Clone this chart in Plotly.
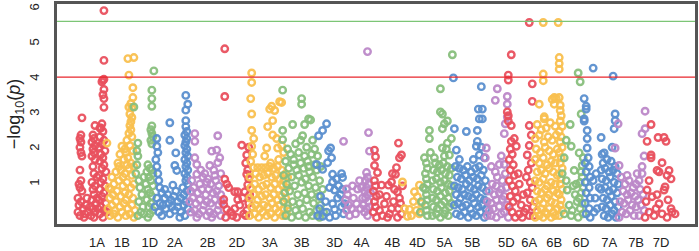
import plotly.graph_objects as go

# Chromosome names and label positions (genomic position in plot units)
CHROMS = ["1A", "1B", "1D", "2A", "2B", "2D", "3A", "3B", "3D", "4A", "4B",
          "4D", "5A", "5B", "5D", "6A", "6B", "6D", "7A", "7B", "7D"]
LABEL_POS = [97, 122, 150, 175, 208, 237, 270, 302, 335, 362, 393,
             418, 445, 473, 507, 530, 555, 582, 610, 637, 662]
PALETTE = ["#E9505E", "#F9C04F", "#88BF7C", "#5B8FCF", "#BC88C8"]
Y_TICKS = [1, 2, 3, 4, 5, 6]
SUGGESTIVE = 4.05
GENOMEWIDE = 5.64

# (position, -log10 p) per chromosome
c1A = [(104,5.95),(104,4.53),(103,3.97),(104,3.99),(102,3.92),(104,3.7),(103,3.55),(104,3.44),(104,3.19),(82,2.89),(95,2.67),(102,2.72),(100,2.6),
       (81,2.4),(80,2.3),(81,2.2),(80,2.05),(81,1.9),(82,1.8),(80,1.4),(81,1.1),(79,1.0),(80,0.9),(82,0.8),(78,0.6),(81,0.5),(79,0.4),(83,0.3),(78,0.2),(80,0.1),(84,0.05),(86,0.4),(88,0.2),(85,0.15),(87,0.6),
       (93,2.4),(94,2.3),(92,2.2),(95,2.1),(93,2.0),(94,1.9),(92,1.8),(95,1.7),(93,1.5),(94,1.3),(92,1.05),(95,0.95),(93,0.85),(94,0.7),(92,0.55),(96,0.45),(93,0.3),(95,0.2),(91,0.1),(94,0.05),(90,0.35),
       (101,2.6),(103,2.5),(100,2.35),(104,2.25),(102,2.15),(99,2.05),(105,1.95),(101,1.85),(103,1.75),(100,1.65),(104,1.55),(102,1.45),(106,1.35),(99,1.25),(103,1.15),(101,1.05),(105,0.95),(100,0.85),(104,0.75),(102,0.65),(99,0.55),(106,0.45),(101,0.35),(104,0.25),(100,0.15),(103,0.05),(97,0.6),(98,0.3),(97,1.2),(107,0.2)]
c1B = [(128,4.58),(134,4.61),(129,4.11),(133,3.75),(133,3.47),(131,3.3),(132,3.19),(129,3.2),(130,3.0),(132,2.9),(131,2.78),(130,2.67),(131,2.55),(129,2.45),(132,2.35),(122,2.08),(107,2.17),(125,2.0),(127,2.25),(120,1.85),(126,1.9),(130,2.1),(133,1.95),(118,1.6),(124,1.7),(128,1.75),(131,1.6),(134,1.5),(112,1.2),(116,1.35),(121,1.4),(125,1.3),(129,1.45),(132,1.25),(109,0.9),(114,1.0),(119,1.1),(123,0.95),(127,1.05),(131,0.9),(134,1.0),(110,0.6),(113,0.7),(117,0.8),(121,0.65),(125,0.75),(129,0.7),(133,0.6),(108,0.3),(112,0.4),(116,0.5),(120,0.35),(124,0.45),(128,0.3),(132,0.4),(135,0.25),(110,0.1),(114,0.15),(118,0.05),(122,0.2),(126,0.1),(130,0.15),(134,0.05),(119,1.5),(127,1.55),(123,1.2),(115,0.25),(126,0.55),(111,0.85)]
c1D = [(154,4.23),(152,3.68),(152,3.44),(152,3.22),(134,3.2),(152,2.66),(151,2.55),(152,2.45),(153,2.35),(151,2.25),(152,2.15),(138,2.17),(137,1.95),(138,1.8),(137,1.55),(148,1.55),(150,1.45),(147,1.35),(152,1.4),(153,1.3),(149,1.2),(151,1.1),(146,1.0),(153,0.95),(148,0.85),(150,0.75),(152,0.65),(147,0.55),(151,0.45),(149,0.35),(153,0.25),(150,0.15),(148,0.05),(140,0.9),(142,0.7),(139,0.5),(143,0.35),(141,0.2),(138,0.1),(144,1.2),(136,1.3),(139,1.1),(144,0.15)]
c2A = [(186,3.53),(188,3.28),(186,3.11),(186,2.81),(186,2.64),(170,2.75),(170,2.25),(157,2.3),(157,2.08),(158,1.9),(176,1.89),(175,1.53),(177,1.39),(173,0.97),(187,2.5),(185,2.4),(187,2.3),(186,2.2),(185,2.1),(187,2.0),(186,1.9),(188,1.8),(185,1.7),(187,1.6),(186,1.5),(188,1.4),(185,1.3),(187,1.2),(186,1.1),(188,1.0),(156,1.7),(157,1.5),(158,1.3),(159,1.1),(160,0.9),(162,0.75),(165,0.6),(168,0.7),(171,0.55),(174,0.65),(178,0.5),(181,0.6),(184,0.7),(157,0.6),(160,0.45),(163,0.4),(166,0.3),(169,0.45),(172,0.35),(175,0.25),(178,0.35),(181,0.2),(184,0.4),(187,0.8),(186,0.5),(188,0.3),(185,0.1),(159,0.2),(162,0.1),(165,0.85),(176,0.8),(180,0.05),(170,0.15),(155,0.35),(183,0.9)]
c2B = [(195,2.44),(195,2.22),(218,2.38),(212,1.94),(217,1.97),(220,1.75),(210,1.53),(218,1.61),(195,1.75),(197,1.56),(197,1.28),(205,1.3),(214,1.4),(208,1.15),(221,1.3),(192,1.1),(200,1.0),(203,1.2),(211,1.0),(216,1.1),(219,0.95),(191,0.8),(194,0.9),(198,0.75),(202,0.85),(206,0.7),(209,0.85),(213,0.75),(217,0.8),(221,0.7),(190,0.5),(193,0.6),(196,0.45),(200,0.55),(204,0.4),(207,0.5),(211,0.45),(215,0.55),(219,0.4),(222,0.5),(191,0.2),(195,0.25),(199,0.15),(203,0.25),(207,0.1),(210,0.2),(214,0.15),(218,0.25),(221,0.1),(197,0.05),(212,0.05),(201,1.4),(207,1.05),(215,1.25)]
c2D = [(225,4.86),(225,3.5),(242,2.11),(249,2.05),(247,1.83),(246,1.6),(248,1.4),(247,1.28),(249,1.15),(225,1.14),(227,1.0),(229,0.9),(248,0.98),(238,0.78),(235,0.78),(245,0.78),(224,0.56),(238,0.56),(243,0.6),(224,0.42),(227,0.28),(235,0.3),(240,0.4),(231,0.2),(247,0.25),(246,0.1),(233,0.1),(249,0.45),(244,0.15),(226,0.05),(250,0.7),(237,0.05)]
c3A = [(252,4.17),(252,3.9),(251,3.44),(252,3.0),(252,2.53),(254,2.3),(252,2.08),(253,1.85),(251,1.65),(272,3.22),(275,3.1),(280,3.35),(282,3.33),(270,3.14),(273,2.81),(268,2.64),(273,2.4),(277,2.3),(267,2.03),(265,1.8),(278,2.03),(282,2.1),(284,1.9),(279,1.7),(271,1.6),(254,1.47),(258,1.47),(262,1.47),(266,1.47),(270,1.5),(274,1.45),(278,1.5),(282,1.4),(286,1.3),(250,1.2),(256,1.3),(260,1.2),(264,1.25),(268,1.3),(272,1.2),(276,1.25),(280,1.15),(284,1.1),(288,1.2),(251,0.9),(255,1.0),(259,0.85),(263,0.95),(267,1.0),(271,0.9),(275,1.0),(279,0.85),(283,0.95),(287,0.9),(250,0.6),(254,0.7),(258,0.55),(262,0.65),(266,0.7),(270,0.6),(274,0.7),(278,0.55),(282,0.65),(286,0.6),(252,0.35),(256,0.4),(260,0.3),(264,0.4),(268,0.35),(272,0.45),(276,0.3),(280,0.4),(284,0.3),(288,0.4),(250,0.1),(255,0.15),(259,0.05),(263,0.2),(267,0.1),(271,0.15),(275,0.05),(279,0.2),(283,0.1),(287,0.15)]
c3B = [(283,3.68),(302,3.44),(302,3.28),(293,2.7),(305,2.7),(309,2.86),(311,2.83),(283,2.53),(283,2.27),(303,2.38),(301,2.25),(313,2.25),(296,2.15),(288,2.0),(307,2.05),(315,2.0),(291,1.85),(299,1.9),(305,1.8),(312,1.85),(318,1.8),(286,1.65),(294,1.7),(301,1.6),(308,1.65),(315,1.55),(321,1.5),(289,1.45),(297,1.4),(304,1.45),(310,1.35),(317,1.4),(284,1.25),(292,1.2),(299,1.25),(306,1.15),(313,1.2),(320,1.1),(287,1.0),(295,0.95),(302,1.05),(309,0.95),(316,0.9),(323,0.85),(285,0.75),(290,0.8),(298,0.7),(305,0.75),(312,0.7),(319,0.65),(284,0.5),(293,0.5),(300,0.45),(307,0.55),(314,0.45),(321,0.4),(288,0.3),(296,0.25),(303,0.3),(310,0.2),(317,0.25),(324,0.2),(286,0.1),(292,0.05),(299,0.1),(306,0.05),(313,0.1),(320,0.05),(294,1.55),(309,1.5)]
c3D = [(327,2.72),(323,2.53),(319,2.38),(331,2.03),(329,1.95),(332,1.75),(328,1.61),(323,1.42),(317,1.56),(333,1.28),(342,1.3),(343,1.19),(337,1.15),(333,1.06),(335,0.83),(343,0.85),(339,0.95),(330,0.9),(345,0.44),(342,0.35),(333,0.44),(335,0.28),(338,0.6),(341,0.7),(323,0.08),(318,0.1),(320,0.3),(327,0.2),(330,0.05),(344,0.15),(336,0.1),(326,0.5),(321,0.65)]
c4A = [(368,4.78),(369,2.47),(344,2.22),(370,1.94),(367,1.33),(368,1.2),(366,1.1),(369,1.0),(367,0.9),(365,0.8),(368,0.7),(366,0.6),(369,0.5),(364,0.4),(367,0.3),(365,0.2),(368,0.1),(362,0.9),(363,0.6),(361,0.3),(347,0.86),(348,0.7),(346,0.55),(349,0.4),(347,0.25),(350,0.1),(358,0.86),(357,0.44),(354,0.6),(352,0.3),(356,0.15),(360,1.1),(353,0.95),(371,0.75),(370,0.35)]
c4B = [(375,1.97),(376,1.78),(375,1.53),(378,1.33),(375,1.1),(376,0.95),(374,0.8),(377,0.65),(375,0.5),(376,0.35),(374,0.2),(377,0.05),(399,2.17),(402,1.83),(400,1.75),(397,1.47),(396,1.28),(392,1.06),(389,0.97),(382,0.97),(398,0.78),(400,0.6),(401,0.45),(399,0.3),(402,0.15),(398,0.05),(392,0.3),(390,0.15),(385,0.44),(387,0.65),(394,0.5),(395,0.85),(380,0.25),(383,0.1),(388,0.05),(403,0.95),(393,1.3),(380,0.7)]
c4D = [(403,1.06),(420,0.97),(415,0.78),(418,0.64),(410,0.28),(417,0.25),(408,0.08),(420,0.15),(405,0.3),(412,0.1),(422,0.45),(414,0.5)]
c5A = [(453,4.69),(441,3.72),(441,3.06),(443,3.0),(448,2.8),(445,2.72),(443,2.58),(430,2.53),(430,2.3),(452,2.3),(448,2.17),(443,2.03),(447,2.0),(450,1.83),(445,1.8),(425,1.75),(427,1.6),(428,1.45),(426,1.3),(427,1.15),(428,1.0),(426,0.85),(427,0.7),(428,0.55),(426,0.4),(427,0.25),(428,0.1),(422,0.5),(421,0.2),(424,0.9),(436,1.6),(440,1.55),(444,1.6),(448,1.5),(452,1.45),(434,1.4),(438,1.35),(442,1.4),(446,1.3),(450,1.25),(433,1.1),(437,1.15),(441,1.05),(445,1.1),(449,1.0),(452,0.95),(434,0.85),(438,0.8),(442,0.9),(446,0.75),(450,0.8),(433,0.6),(437,0.55),(441,0.65),(445,0.5),(449,0.6),(452,0.45),(434,0.35),(438,0.3),(442,0.4),(446,0.25),(450,0.35),(433,0.1),(437,0.15),(441,0.05),(445,0.15),(449,0.1),(431,1.9),(435,1.75)]
c5B = [(454,4.03),(482,3.78),(479,3.14),(483,3.14),(480,2.86),(483,2.86),(455,2.58),(457,1.97),(467,2.5),(478,2.53),(478,2.22),(477,2.08),(482,2.05),(480,1.83),(485,1.75),(456,1.5),(460,1.45),(464,1.4),(468,1.5),(472,1.35),(476,1.45),(480,1.5),(484,1.4),(458,1.2),(462,1.15),(466,1.25),(470,1.1),(474,1.2),(478,1.15),(482,1.25),(486,1.1),(455,0.95),(459,0.9),(463,0.85),(467,1.0),(471,0.9),(475,0.85),(479,0.95),(483,0.9),(487,0.8),(457,0.7),(461,0.6),(465,0.7),(469,0.65),(473,0.6),(477,0.7),(481,0.6),(485,0.55),(455,0.4),(459,0.45),(463,0.35),(467,0.4),(471,0.3),(475,0.45),(479,0.35),(483,0.4),(487,0.3),(457,0.15),(461,0.1),(465,0.2),(469,0.05),(473,0.15),(477,0.1),(481,0.2),(485,0.05),(460,1.7),(474,1.7)]
c5D = [(498,3.72),(496,3.39),(508,3.5),(508,3.28),(508,2.92),(506,2.72),(505,2.44),(487,2.03),(486,1.75),(502,1.8),(505,1.56),(500,1.56),(492,1.5),(506,1.3),(498,1.2),(503,1.1),(493,1.0),(497,0.95),(502,0.85),(507,0.9),(490,0.8),(495,0.7),(500,0.75),(505,0.65),(488,0.5),(492,0.45),(497,0.55),(503,0.56),(508,0.4),(490,0.25),(494,0.3),(500,0.36),(505,0.2),(488,0.1),(492,0.1),(497,0.05),(502,0.15),(509,0.05),(496,1.35)]
c6A = [(530,5.61),(512,4.69),(509,4.11),(509,3.97),(533,3.86),(533,3.36),(508,3.06),(509,2.95),(509,2.8),(530,2.67),(512,2.67),(532,2.4),(512,2.22),(515,2.3),(517,2.08),(530,2.1),(528,1.83),(532,1.6),(511,2.0),(513,1.85),(510,1.7),(514,1.55),(511,1.4),(515,1.25),(510,1.1),(513,0.95),(516,0.8),(511,0.65),(514,0.5),(510,0.35),(513,0.2),(516,0.05),(520,1.0),(518,0.6),(522,0.4),(525,0.2),(520,0.15),(524,0.7),(527,1.2),(529,1.4),(531,1.05),(533,0.9),(528,0.75),(531,0.55),(534,0.35),(527,0.3),(530,0.1),(534,0.1),(523,0.05),(519,1.3)]
c6B = [(544,5.61),(559,5.61),(560,4.61),(560,4.44),(560,4.28),(544,4.14),(544,3.95),(555,3.47),(560,3.47),(555,3.28),(561,3.25),(540,3.28),(545,2.92),(545,2.86),(553,3.42),(557,3.45),(561,3.1),(562,2.95),(561,2.8),(563,2.65),(560,2.5),(562,2.35),(561,2.2),(563,2.05),(560,1.9),(562,1.75),(561,1.6),(563,1.45),(560,1.3),(562,1.15),(561,1.0),(563,0.85),(560,0.7),(562,0.55),(561,0.4),(563,0.25),(560,0.1),(538,2.7),(542,2.55),(547,2.6),(551,2.75),(556,2.65),(536,2.3),(540,2.4),(545,2.2),(549,2.35),(553,2.25),(557,2.4),(537,2.0),(541,1.9),(546,2.05),(550,1.95),(554,1.85),(558,2.0),(536,1.7),(540,1.6),(544,1.75),(548,1.55),(552,1.65),(556,1.6),(538,1.35),(542,1.4),(546,1.3),(550,1.45),(554,1.35),(558,1.25),(536,1.1),(540,1.05),(544,1.15),(548,0.95),(552,1.05),(556,1.0),(538,0.8),(542,0.75),(546,0.85),(550,0.7),(554,0.8),(558,0.75),(536,0.5),(540,0.55),(544,0.45),(548,0.6),(552,0.5),(556,0.45),(538,0.25),(542,0.3),(546,0.2),(550,0.3),(554,0.2),(558,0.3),(536,0.05),(540,0.1),(544,0.05),(548,0.15),(552,0.05),(556,0.1)]
c6D = [(579,4.17),(581,3.92),(582,3.0),(571,2.7),(567,2.25),(572,2.08),(580,1.89),(584,1.75),(583,1.53),(565,1.75),(575,1.39),(577,1.0),(582,1.35),(583,1.2),(581,1.05),(584,0.9),(582,0.75),(580,0.6),(583,0.45),(581,0.3),(584,0.15),(563,1.3),(568,0.83),(570,0.4),(573,0.25),(565,0.15),(576,0.7),(578,0.5),(567,1.1),(574,0.95),(572,0.1),(579,0.05)]
c7A = [(594,4.31),(614,4.08),(585,3.44),(587,3.22),(587,3.14),(585,2.86),(585,2.8),(616,3.0),(616,2.81),(615,2.58),(588,2.53),(588,2.3),(602,2.33),(613,2.05),(605,1.89),(603,1.85),(588,2.03),(589,1.75),(586,1.6),(590,1.5),(587,1.35),(591,1.2),(586,1.05),(590,0.9),(587,0.75),(591,0.6),(586,0.45),(590,0.3),(587,0.15),(591,0.05),(594,1.1),(596,0.6),(598,0.3),(600,0.9),(595,0.2),(604,1.6),(608,1.7),(612,1.65),(616,1.5),(602,1.4),(606,1.45),(610,1.35),(614,1.4),(618,1.3),(603,1.15),(607,1.1),(611,1.2),(615,1.05),(619,1.0),(602,0.85),(606,0.9),(610,0.8),(614,0.85),(618,0.75),(604,0.6),(608,0.55),(612,0.65),(616,0.5),(603,0.35),(607,0.3),(611,0.4),(615,0.25),(619,0.35),(605,0.1),(609,0.05),(613,0.15),(617,0.05),(597,1.3)]
c7B = [(646,3.08),(619,2.72),(646,2.58),(643,2.44),(645,1.8),(616,2.03),(620,1.53),(643,1.5),(640,1.1),(637,1.0),(643,1.3),(641,0.85),(644,0.7),(639,0.55),(642,0.4),(645,0.25),(640,0.1),(622,1.2),(626,1.0),(630,1.1),(634,0.9),(624,0.8),(628,0.7),(632,0.75),(636,0.65),(621,0.5),(625,0.45),(629,0.55),(633,0.4),(637,0.35),(623,0.2),(627,0.15),(631,0.25),(635,0.1),(620,0.05),(638,1.3),(628,1.25)]
c7D = [(652,2.7),(659,2.33),(665,2.33),(667,2.22),(648,2.22),(652,1.83),(652,1.75),(663,1.61),(658,1.39),(670,1.39),(660,1.35),(668,1.25),(672,1.15),(665,0.83),(666,0.92),(650,1.1),(648,0.83),(653,0.64),(658,0.7),(660,0.44),(672,0.3),(673,0.2),(657,0.3),(650,0.2),(663,0.15),(647,0.5),(655,0.1),(668,0.05),(646,0.05),(676,0.15),(669,0.55)]

CHROM_DATA = [c1A, c1B, c1D, c2A, c2B, c2D, c3A, c3B, c3D, c4A, c4B,
              c4D, c5A, c5B, c5D, c6A, c6B, c6D, c7A, c7B, c7D]

fig = go.Figure()
for i, (name, pts) in enumerate(zip(CHROMS, CHROM_DATA)):
    fig.add_trace(go.Scatter(
        x=[p[0] for p in pts], y=[p[1] for p in pts],
        mode="markers", name=name, showlegend=False,
        marker=dict(symbol="circle-open", size=6.5, color=PALETTE[i % 5],
                    line=dict(width=2.4), opacity=0.95),
        hoverinfo="skip"))

fig.add_hline(y=GENOMEWIDE, line=dict(color="#7CC576", width=1.2))
fig.add_hline(y=SUGGESTIVE, line=dict(color="#E8262D", width=1.2))

# plot frame: a rectangle on the plot area edges
fig.add_shape(type="rect", xref="paper", yref="paper", x0=0, x1=1, y0=0, y1=1,
              line=dict(color="#555555", width=2), fillcolor="rgba(0,0,0,0)",
              layer="above")

axis_font = dict(family="Liberation Sans, Arial, sans-serif", size=13, color="#222222")
frame = dict(showline=True, mirror="all", linecolor="#555555", linewidth=1.6)
fig.update_layout(
    width=699, height=251, autosize=False,
    margin=dict(l=56, r=2, t=1, b=22),
    paper_bgcolor="white", plot_bgcolor="white",
    font=axis_font,
    xaxis=dict(range=[56, 697], tickvals=LABEL_POS, ticktext=CHROMS,
               showgrid=False, zeroline=False, ticks="",
               ticklabelstandoff=5, tickfont=axis_font, **frame),
    yaxis=dict(range=[-0.167, 6.167], tickvals=Y_TICKS,
               showgrid=False, zeroline=False, ticks="",
               tickangle=-90, ticklabelstandoff=10, tickfont=axis_font,
               title=dict(text="\u2212log<sub>10</sub>(<i>p</i>)",
                          font=dict(family="Liberation Sans, Arial, sans-serif",
                                    size=18, color="#222222"),
                          standoff=0), **frame),
)

fig.write_html("out.html", config={"displayModeBar": False},
               post_script="document.body.style.margin='0';")
